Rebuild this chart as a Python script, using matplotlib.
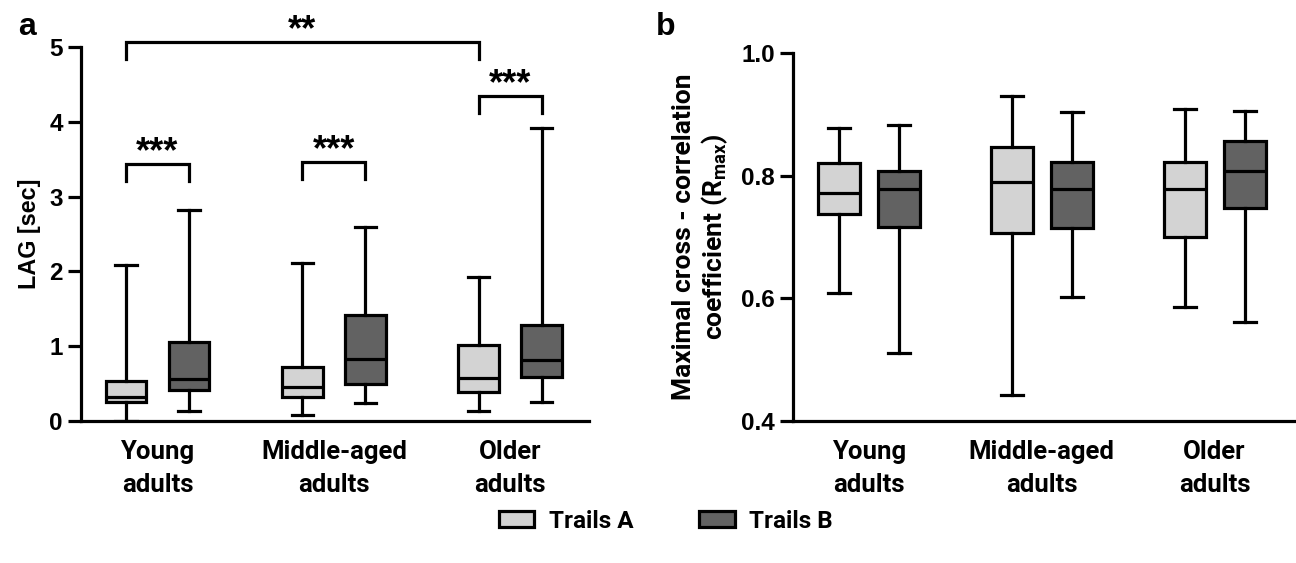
import matplotlib
matplotlib.use("Agg")
import matplotlib.pyplot as plt
from matplotlib.patches import Patch

groups = ["Young\nadults", "Middle-aged\nadults", "Older\nadults"]
series = ["Trails A", "Trails B"]
colors = ["#d3d3d3", "#626262"]

# panel a: LAG [sec] box stats per group (low whisker, q1, median, q3, high whisker)
lag_a_lo = [0.00, 0.08, 0.13]
lag_a_q1 = [0.25, 0.32, 0.39]
lag_a_med = [0.32, 0.45, 0.57]
lag_a_q3 = [0.53, 0.72, 1.01]
lag_a_hi = [2.08, 2.11, 1.93]

lag_b_lo = [0.14, 0.24, 0.25]
lag_b_q1 = [0.41, 0.49, 0.59]
lag_b_med = [0.56, 0.83, 0.82]
lag_b_q3 = [1.05, 1.42, 1.29]
lag_b_hi = [2.82, 2.59, 3.92]

# panel b: maximal cross-correlation coefficient
r_a_lo = [0.609, 0.442, 0.586]
r_a_q1 = [0.737, 0.707, 0.700]
r_a_med = [0.771, 0.789, 0.778]
r_a_q3 = [0.821, 0.846, 0.823]
r_a_hi = [0.878, 0.930, 0.909]

r_b_lo = [0.511, 0.602, 0.562]
r_b_q1 = [0.716, 0.714, 0.748]
r_b_med = [0.778, 0.778, 0.807]
r_b_q3 = [0.807, 0.823, 0.856]
r_b_hi = [0.882, 0.903, 0.905]

# significance brackets in panel a: (group, series) start, (group, series) end, height, label
sig_from = [(0, 0), (1, 0), (2, 0), (0, 0)]
sig_to = [(0, 1), (1, 1), (2, 1), (2, 0)]
sig_y = [3.44, 3.46, 4.35, 5.07]
sig_text = ["***", "***", "***", "**"]

LW = 2.3
label_font = ["Roboto", "DejaVu Sans"]
num_font = ["Liberation Sans", "DejaVu Sans"]


def stats(lo, q1, med, q3, hi):
    return [dict(whislo=lo[i], q1=q1[i], med=med[i], q3=q3[i], whishi=hi[i], fliers=[])
            for i in range(len(lo))]


def draw_boxes(ax, sa, sb, gap, width):
    pos_a = [g * gap for g in range(len(groups))]
    pos_b = [p + 1 for p in pos_a]
    for st, pos, col in [(sa, pos_a, colors[0]), (sb, pos_b, colors[1])]:
        ax.bxp(st, positions=pos, widths=width, patch_artist=True, showfliers=False,
               capwidths=width * 0.52,
               boxprops=dict(facecolor=col, edgecolor="black", linewidth=LW),
               medianprops=dict(color="black", linewidth=LW),
               whiskerprops=dict(color="black", linewidth=LW),
               capprops=dict(color="black", linewidth=LW))
    centers = [(a + b) / 2 for a, b in zip(pos_a, pos_b)]
    ax.set_xticks(centers)
    ax.set_xticklabels(groups, family=label_font, fontsize=18.5, fontweight="bold",
                       linespacing=1.45)
    ax.tick_params(axis="x", length=0, pad=14)
    ax.tick_params(axis="y", length=9.5, width=LW, pad=3.5)
    ax.spines["top"].set_visible(False)
    ax.spines["right"].set_visible(False)
    ax.spines["left"].set_linewidth(LW)
    ax.spines["bottom"].set_linewidth(LW)
    return pos_a, pos_b


def style_yticks(ax):
    for t in ax.get_yticklabels():
        t.set_family(num_font)
        t.set_fontweight("bold")
        t.set_fontsize(17.5)


fig = plt.figure(figsize=(12.96, 5.63), dpi=100)

# panel a
ax1 = fig.add_axes([81 / 1296, 1 - 421 / 563, (589 - 81) / 1296, (421 - 47) / 563])
pa, pb = draw_boxes(ax1, stats(lag_a_lo, lag_a_q1, lag_a_med, lag_a_q3, lag_a_hi),
                    stats(lag_b_lo, lag_b_q1, lag_b_med, lag_b_q3, lag_b_hi), 2.8, 0.65)
ax1.set_xlim(-0.714, 7.35)
ax1.set_ylim(0, 5)
ax1.set_yticks([0, 1, 2, 3, 4, 5])
style_yticks(ax1)
ax1.set_ylabel("LAG [sec]", family=num_font, fontsize=16.8, fontweight="bold", labelpad=6)

pos = [pa, pb]
for (g1, s1), (g2, s2), y, txt in zip(sig_from, sig_to, sig_y, sig_text):
    x1 = pos[s1][g1]
    x2 = pos[s2][g2]
    ax1.plot([x1, x1, x2, x2], [y - 0.23, y, y, y - 0.23], color="black", lw=LW,
             clip_on=False, solid_joinstyle="miter")
    ax1.text((x1 + x2) / 2, y + 0.15, txt, ha="center", va="center", fontsize=26,
             fontweight="bold", family=num_font, clip_on=False)

# panel b
ax2 = fig.add_axes([793 / 1296, 1 - 421 / 563, (1295 - 793) / 1296, (421 - 53) / 563])
draw_boxes(ax2, stats(r_a_lo, r_a_q1, r_a_med, r_a_q3, r_a_hi),
           stats(r_b_lo, r_b_q1, r_b_med, r_b_q3, r_b_hi), 2.88, 0.7)
ax2.set_xlim(-0.767, 7.6)
ax2.set_ylim(0.4, 1.0)
ax2.set_yticks([0.4, 0.6, 0.8, 1.0])
ax2.set_yticklabels(["0.4", "0.6", "0.8", "1.0"])
style_yticks(ax2)
ax2.set_ylabel("Maximal cross - correlation\ncoefficient (R$_{\\mathregular{max}}$)",
               family=label_font, fontsize=19, fontweight="bold", labelpad=8,
               linespacing=1.15)

fig.text(27 / 1296, 1 - 27 / 563, "a", family=num_font, fontsize=23, fontweight="bold",
         ha="center", va="center")
fig.text(666 / 1296, 1 - 27 / 563, "b", family=num_font, fontsize=23, fontweight="bold",
         ha="center", va="center")

handles = [Patch(facecolor=c, edgecolor="black", linewidth=LW) for c in colors]
fig.legend(handles, series, loc="center", bbox_to_anchor=(666 / 1296, 1 - 521 / 563),
           ncol=2, frameon=False, handlelength=1.45, handleheight=0.62, columnspacing=2.7,
           handletextpad=0.6, prop=dict(family=label_font, size=17.5, weight="bold"))

fig.savefig("out.png", dpi=100)
